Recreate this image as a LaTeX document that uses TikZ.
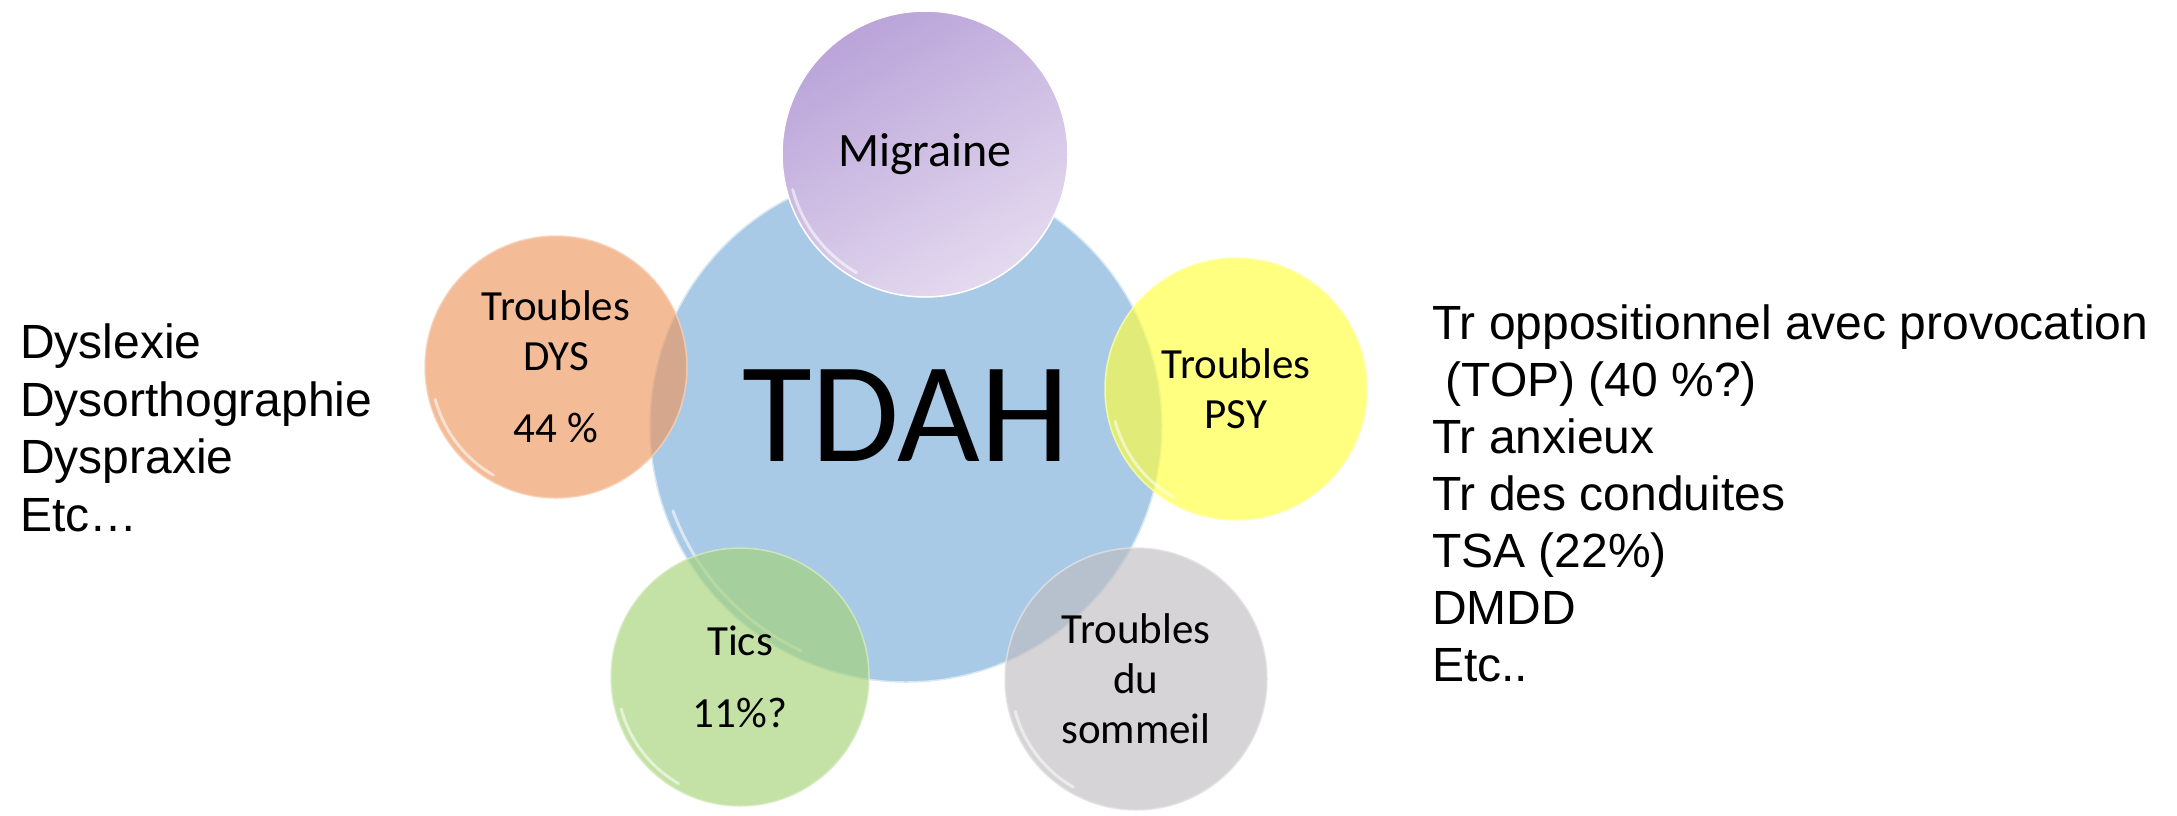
\documentclass[tikz,border=0pt]{standalone}
\usepackage{fontspec}
\setmainfont{Liberation Sans}
\newfontfamily\bubblefont{Carlito}
\usepackage{tikz}
\usetikzlibrary{calc}
\definecolor{tdahblue}{RGB}{169,202,230}
\definecolor{dysorange}{RGB}{237,150,94}
\definecolor{psyyellow}{RGB}{255,255,60}
\definecolor{ticsgreen}{RGB}{164,210,118}
\definecolor{sleepgray}{RGB}{192,189,192}
\definecolor{migtop}{RGB}{186,164,217}
\definecolor{migbot}{RGB}{228,218,239}

\begin{document}
\begin{tikzpicture}[x=1pt,y=-1pt,
    bubble/.style={circle,inner sep=0pt,minimum size=262pt,align=center,
      fill=#1,draw=#1!45!white,line width=1.5pt,fill opacity=0.65,
      draw opacity=0.8,text opacity=1,
      font=\bubblefont\fontsize{43}{50}\selectfont},
    shine/.style={white,opacity=0.55,line width=3pt,line cap=round},
    listtext/.style={anchor=base west,align=left,inner sep=0pt,
      font=\fontsize{48}{57.5}\selectfont}]
  \useasboundingbox (0,0) rectangle (2177,815);
  % cercle central
  \node[circle,inner sep=0pt,minimum size=512pt,fill=tdahblue,
    draw=tdahblue!45!white,line width=1.5pt,text depth=21pt,
    font=\bubblefont\fontsize{143}{150}\selectfont] (tdah) at (906,426) {TDAH};
  \draw[shine] ($(tdah.center)+(115:248)$) arc[start angle=115,end angle=160,radius=248];
  % bulles autour
  \node[circle,inner sep=0pt,minimum size=286pt,top color=migtop,
    bottom color=migbot,shading angle=30,draw=white,line width=1.5pt,
    font=\bubblefont\fontsize{48}{55}\selectfont] (mig) at (925,154) {Migraine};
  \node[bubble=dysorange] (dys) at (556,367) {Troubles\\DYS\\[22pt]44~\%};
  \node[bubble=psyyellow] (psy) at (1236,389) {Troubles\\PSY};
  \node[bubble=ticsgreen,minimum size=258pt] (tics) at (740,677) {Tics\\[22pt]11\%?};
  \node[bubble=sleepgray] (som) at (1136,679) {Troubles\\du\\sommeil};
  \foreach \b/\r in {mig/137,dys/125,psy/125,tics/123,som/125}
    \draw[shine] ($(\b.center)+(120:\r)$) arc[start angle=120,end angle=165,radius=\r];
  % listes
  \node[listtext] (dyslist) at (20,531) {Dyslexie\\Dysorthographie\\Dyspraxie\\Etc…};
  \node[listtext,font=\fontsize{48}{57}\selectfont] (psylist) at (1432,681)
    {Tr oppositionnel avec provocation\\~(TOP) (40~\%?)\\Tr anxieux\\
     Tr des conduites\\TSA (22\%)\\DMDD\\Etc..};
\end{tikzpicture}
\end{document}
